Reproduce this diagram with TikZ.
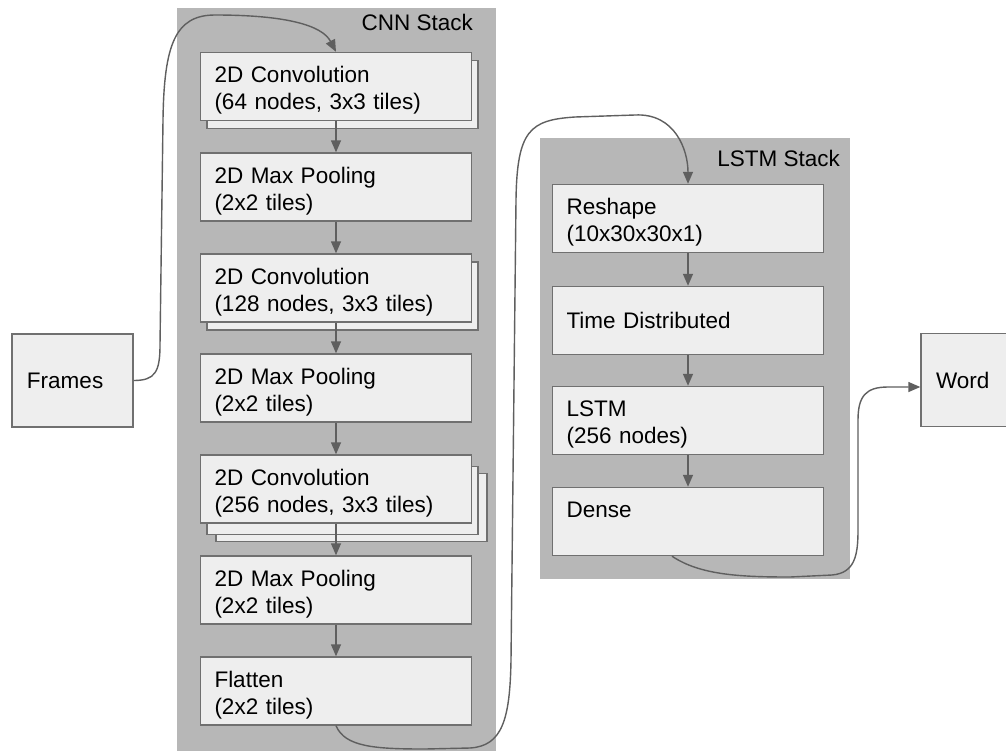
\documentclass[tikz,border=0pt]{standalone}
\usepackage{fontspec}
\setmainfont{Liberation Sans}
\usetikzlibrary{arrows.meta,calc}
\definecolor{stackgray}{HTML}{B7B7B7}
\definecolor{boxfill}{HTML}{EEEEEE}
\definecolor{boxline}{HTML}{707070}
\definecolor{conn}{HTML}{5F5F5F}
\begin{document}
\begin{tikzpicture}[x=1pt,y=-1pt,
  layer/.style={draw=boxline, fill=boxfill, line width=1.4pt, text width=243pt,
    inner xsep=14pt, inner ysep=0pt, minimum height=68pt, align=left,
    font=\fontsize{22.5}{27}\selectfont},
  twoline/.style={layer, execute at end node={\vspace*{-8pt}}},
  topline/.style={layer, execute at end node={\vspace*{-4pt}}},
  shadowbox/.style={layer},
  io/.style={layer, text width=91pt, inner xsep=15pt, minimum height=93pt},
  stackbg/.style={fill=stackgray, draw=none, inner sep=0pt, anchor=north west},
  stacklabel/.style={font=\fontsize{22.5}{27}\selectfont, anchor=east, inner sep=0pt},
  flow/.style={draw=conn, line width=1.4pt, -{Triangle[width=10pt,length=12pt]}}]
\clip (0,0) rectangle (1006,750);
\fill[white] (0,0) rectangle (1006,750);
% stacks
\node[stackbg, minimum width=319pt, minimum height=760pt] (cnn) at (177,8) {};
\node[stackbg, minimum width=310pt, minimum height=441pt] (lstm) at (540,138) {};
\node[stacklabel] (cnnlab) at (473,22) {CNN Stack};
\node[stacklabel] (lstmlab) at (840,158) {LSTM Stack};
% inputs / outputs
\node[io] (fr) at (72.5,380.5) {Frames};
\node[io] (wd) at (981.5,380) {Word};
% CNN layers (shadow copies first)
\node[shadowbox] (c1b) at (342.5,94.5) {};
\node[twoline] (c1) at (336,86.5) {2D Convolution\\(64 nodes, 3x3 tiles)};
\node[twoline] (p1) at (336,187) {2D Max Pooling\\(2x2 tiles)};
\node[shadowbox] (c2b) at (342.5,296) {};
\node[twoline] (c2) at (336,288) {2D Convolution\\(128 nodes, 3x3 tiles)};
\node[twoline] (p2) at (336,388) {2D Max Pooling\\(2x2 tiles)};
\node[shadowbox] (c3bb) at (351.5,507.5) {};
\node[shadowbox] (c3b) at (342.5,500.5) {};
\node[twoline] (c3) at (336,489) {2D Convolution\\(256 nodes, 3x3 tiles)};
\node[twoline] (p3) at (336,590) {2D Max Pooling\\(2x2 tiles)};
\node[twoline] (fl) at (336,691) {Flatten\\(2x2 tiles)};
% LSTM layers
\node[twoline] (rs) at (688,218.5) {Reshape\\(10x30x30x1)};
\node[layer] (td) at (688,320.5) {Time Distributed};
\node[twoline] (ls) at (688,420.5) {LSTM\\(256 nodes)};
\node[topline] (de) at (688,521.5) {Dense\\\mbox{}};
% straight arrows
\draw[flow] (c1.south) -- (p1.north);
\draw[flow] (p1.south) -- (c2.north);
\draw[flow] (c2.south) -- (p2.north);
\draw[flow] (p2.south) -- (c3.north);
\draw[flow] (c3.south) -- (p3.north);
\draw[flow] (p3.south) -- (fl.north);
\draw[flow] (rs.south) -- (td.north);
\draw[flow] (td.south) -- (ls.north);
\draw[flow] (ls.south) -- (de.north);
% curved connectors
\draw[flow] (fr.east) .. controls (155,380.5) and (160,372) .. (160,345)
  -- (163,120) .. controls (164,45) and (175,15) .. (215,15)
  .. controls (285,15) and (322,25) .. (c1.north);
\draw[flow] (fl.south) .. controls (345,747) and (375,749) .. (425,749)
  -- (470,748) .. controls (502,746) and (510,720) .. (511,660)
  -- (516,200) .. controls (517,130) and (530,120) .. (575,117)
  -- (635,115) .. controls (675,113) and (688,150) .. (rs.north);
\draw[flow] ($(de.south)+(-16,0)$) .. controls (700,575) and (740,577) .. (790,577)
  -- (832,575) .. controls (855,573) and (858,555) .. (858,530)
  -- (858,420) .. controls (858,396) and (866,387) .. (888,387)
  -- ($(wd.west)+(0,7)$);
\end{tikzpicture}
\end{document}
